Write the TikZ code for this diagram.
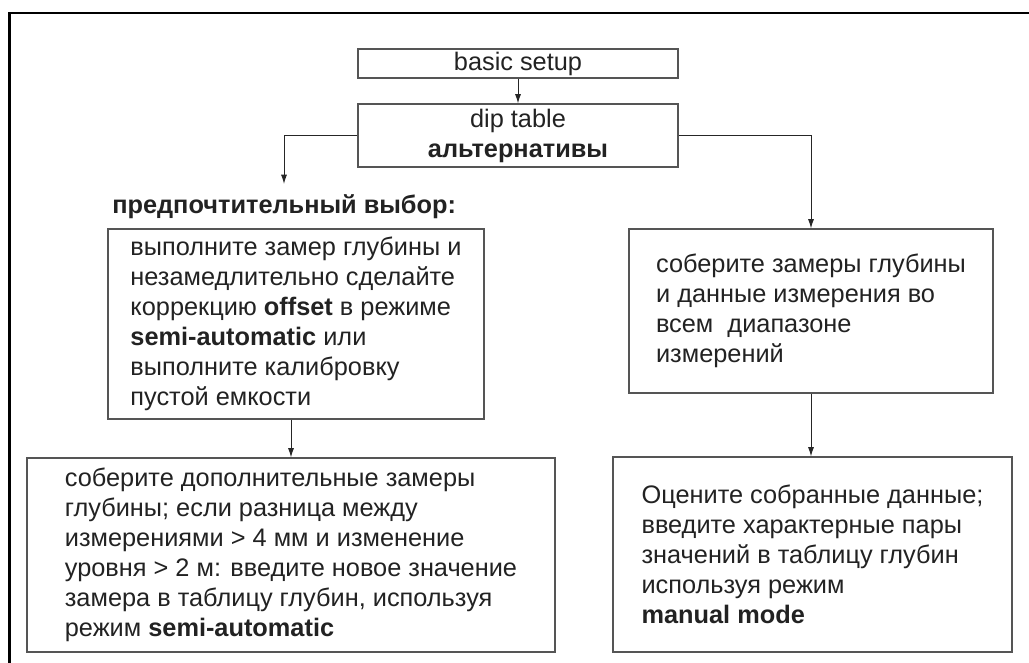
\documentclass[tikz,border=0pt]{standalone}
\usepackage{fontspec}
\setmainfont{Liberation Sans}
\usetikzlibrary{arrows.meta}
\definecolor{boxline}{HTML}{555555}
\definecolor{txt}{HTML}{222222}
\tikzset{
  frame/.style={line width=2pt, black},
  box/.style={draw=boxline, line width=0.8pt, rectangle, inner sep=0pt, align=left, text=txt,
    font=\fontsize{19}{22.5}\selectfont},
  conn/.style={draw=black!85, line width=0.7pt, -{Latex[length=7pt,width=4.5pt]}},
  lbl/.style={inner sep=0pt, text=txt, font=\fontsize{19}{22.5}\selectfont\bfseries}
}
\begin{document}
\begin{tikzpicture}[x=0.75pt,y=-0.75pt]
\useasboundingbox (0,0) rectangle (1029,663);
\draw[frame] (9.5,663) -- (9.5,13) -- (1029,13);

\node[box, minimum width=320*0.75pt, minimum height=29*0.75pt] (setup) at (518,63.5) {basic setup};
\node[box, align=center, minimum width=320*0.75pt, minimum height=63*0.75pt] (dip) at (518,135.5)
  {dip table\\\textbf{альтернативы}};
\node[lbl, anchor=west] (pref) at (112,207) {предпочтительный выбор:};
\node[box, minimum width=376*0.75pt, minimum height=190*0.75pt] (lbox) at (296,324)
  {выполните замер глубины и\\
   незамедлительно сделайте\\
   коррекцию \textbf{offset} в режиме\\
   \textbf{semi-automatic} или\\
   выполните калибровку\\
   пустой емкости};
\node[box, minimum width=364*0.75pt, minimum height=164*0.75pt] (rbox) at (811,311)
  {соберите замеры глубины\\
   и данные измерения во\\
   всем \ диапазоне\\
   измерений};
\node[box, minimum width=528*0.75pt, minimum height=194*0.75pt] (llbox) at (291,555)
  {соберите дополнительные замеры\\
   глубины; если разница между\\
   измерениями > 4 мм и изменение\\
   уровня > 2 м: введите новое значение\\
   замера в таблицу глубин, используя\\
   режим \textbf{semi-automatic}};
\node[box, minimum width=399*0.75pt, minimum height=195*0.75pt] (lrbox) at (812.5,554.5)
  {Оцените собранные данные;\\
   введите характерные пары\\
   значений в таблицу глубин\\
   используя режим\\
   \textbf{manual mode}};

\coordinate (ltip) at (284,184);
\draw[conn] (setup.south) -- (dip.north);
\draw[conn] (dip.west) -| (ltip);
\draw[conn] (dip.east) -| (rbox.north);
\draw[conn] (lbox.south -| llbox.north) -- (llbox.north);
\draw[conn] (rbox.south) -- (rbox.south |- lrbox.north);
\end{tikzpicture}
\end{document}
